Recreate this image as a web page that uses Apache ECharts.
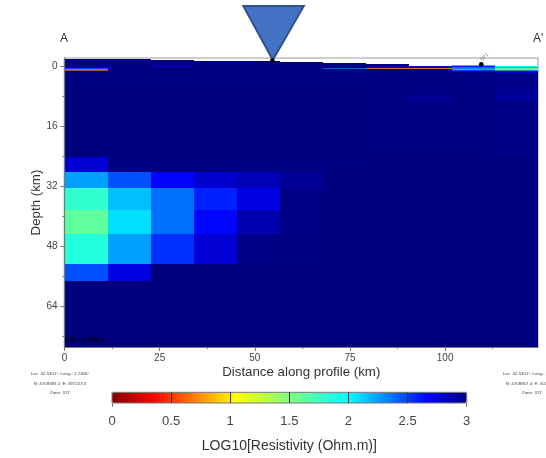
<!DOCTYPE html>
<html><head><meta charset="utf-8">
<style>html,body{margin:0;padding:0;background:#fff;overflow:hidden}#c{width:546px;height:458px}</style>
<script src="https://cdn.jsdelivr.net/npm/echarts@6/dist/echarts.min.js"></script>
</head><body><div id="c"></div>
<script>
// ---- data ----
const columnEdges = [0, 11.35, 22.65, 33.95, 45.25, 56.6, 68, 79.3, 90.6, 101.9, 113.2, 124.4];
const surfaceTops = [-1.9, -1.9, -1.7, -1.6, -1.35, -1.3, -0.85, -0.6, -0.2, -0.25, -0.1];
const rowEdges = [5.7, 7.6, 9.2, 24.2, 28.1, 32.6, 38.4, 44.8, 52.7, 57.3, 75];
const row0 = [2.99, 2.99, 2.99, 2.99, 2.99, 2.99, 2.99, 2.99, 2.99, 2.98, 2.97];
const row1 = [3, 3, 3, 3, 3, 3, 3, 2.99, 2.98, 2.99, 2.95];
const row2 = [3, 3, 3, 3, 3, 3, 3, 2.99, 2.95, 2.99, 2.93];
const row3 = [3, 3, 3, 3, 3, 3, 3, 2.99, 2.99, 2.99, 2.98];
const row4 = [2.78, 2.99, 2.99, 2.99, 2.99, 2.99, 2.99, 3, 3, 3, 3];
const row5 = [2.25, 2.46, 2.67, 2.8, 2.85, 2.94, 3, 3, 3, 3, 3];
const row6 = [1.81, 2.165, 2.376, 2.586, 2.74, 2.98, 3, 3, 3, 3, 3];
const row7 = [1.62, 2.08, 2.376, 2.66, 2.87, 2.98, 3, 3, 3, 3, 3];
const row8 = [1.87, 2.25, 2.544, 2.78, 2.98, 2.99, 3, 3, 3, 3, 3];
const row9 = [2.46, 2.75, 3, 3, 3, 3, 3, 3, 3, 3, 3];
const row10 = [3, 3, 3, 3, 3, 3, 3, 3, 3, 3, 3];
const deepRows = [row1, row2, row3, row4, row5, row6, row7, row8, row9, row10];
// thin near-surface layers: [column, top depth, bottom depth, log10 resistivity]
const thinLayers = [
  [0, 0.32, 0.72, 2.55], [0, 0.72, 1.05, 0.8],
  [2, -0.2, -0.0, 2.7],
  [6, 0.4, 0.56, 2.1],
  [7, 0.404, 0.6, 0.8],
  [8, -0.15, 0.1, 2.75], [8, 0.404, 0.6, 0.8],
  [9, -0.25, 0.14, 2.6], [9, 0.2, 0.33, 0.8], [9, 0.48, 1.0, 2.2], [9, 1.0, 1.3, 2.5],
  [10, -0.1, 0.13, 2.0], [10, 0.14, 0.33, 0.8], [10, 0.4, 1.12, 1.65], [10, 1.12, 1.66, 2.67]
];
const stationDist = [54.6, 109.5];
const stationDepth = [-1.6, -0.6];
const stationNames = ['', 'SP1'];
const triangleTip = [54.6, -1.75];
const depthTicks = [0, 16, 32, 48, 64];
const depthMinorTicks = [8, 24, 40, 56, 72];
const distanceTicks = [0, 25, 50, 75, 100];
const distanceMinorTicks = [12.5, 37.5, 62.5, 87.5, 112.5];
const colorbarTicks = [0, 0.5, 1, 1.5, 2, 2.5, 3];
const scaleStops = [[0, '#7f0000'], [0.35, '#ff0000'], [1.05, '#ffff00'], [1.5, '#7fff7f'], [2, '#00ffff'], [2.67, '#0000ff'], [3, '#00007f']];
const leftInfo = 'Lat.: 42.5301°; Long.: 1.7466°\nN: 4709395.1; E: 397223.3\nZone: 31T';
const rightInfo = 'Lat.: 42.5301°; Long.: 3.0966°\nN: 4708857.0; E: 507223.3\nZone: 31T';

// ---- build ----
function hex(c){return [1,3,5].map(i=>parseInt(c.substr(i,2),16));}
function colorAt(v){
  for(let i=1;i<scaleStops.length;i++){
    if(v<=scaleStops[i][0]){
      const a=scaleStops[i-1],b=scaleStops[i],t=(v-a[0])/(b[0]-a[0]);
      const A=hex(a[1]),B=hex(b[1]);
      return 'rgb('+A.map((x,k)=>Math.round(x+(B[k]-x)*t)).join(',')+')';
    }
  }
  return scaleStops[scaleStops.length-1][1];
}
const ramp=[];for(let i=0;i<=120;i++)ramp.push(colorAt(i*3/120));

const cells=[];
row0.forEach((v,c)=>cells.push([columnEdges[c],columnEdges[c+1],surfaceTops[c],rowEdges[0],v]));
deepRows.forEach((row,r)=>row.forEach((v,c)=>cells.push([columnEdges[c],columnEdges[c+1],rowEdges[r],rowEdges[r+1],v])));
const thin=thinLayers.map(l=>[columnEdges[l[0]],columnEdges[l[0]+1],l[1],l[2],l[3]]);

const tc='#444', ac='#777';
const xMax=124.4,yMin=-2.27,yMax=75;
function rectItem(snap){return function(params,api){
  const a=api.coord([api.value(0),api.value(2)]),b=api.coord([api.value(1),api.value(3)]);
  const r=snap?Math.round:(x=>x);
  const x0=Math.round(a[0]),x1=Math.round(b[0]),y0=r(a[1]),y1=r(b[1]);
  return {type:'rect',shape:{x:x0,y:y0,width:x1-x0,height:y1-y0},style:{fill:api.visual('color')}};
};}

const option={
  animation:false,
  backgroundColor:'#fff',
  textStyle:{fontFamily:'"Liberation Sans",Arial,sans-serif'},
  grid:[
    {left:64.5,top:58,width:473.5,height:289,show:true,borderColor:'#bdbdbd',borderWidth:1.5,backgroundColor:'#fff'},
    {left:112,top:392.3,width:354.7,height:10.7,show:true,borderColor:'#777',borderWidth:1,backgroundColor:'transparent',z:10}
  ],
  xAxis:[
    {type:'value',gridIndex:0,min:0,max:xMax,position:'bottom',name:'Distance along profile (km)',nameLocation:'middle',nameGap:19,nameMoveOverlap:false,
     nameTextStyle:{fontSize:13.3,color:'#333'},splitLine:{show:false},z:5,
     axisLine:{show:true,onZero:false,lineStyle:{color:ac,width:1.2}},
     axisTick:{show:true,length:4,customValues:distanceTicks,lineStyle:{color:ac}},
     axisLabel:{show:true,customValues:distanceTicks,fontSize:10,color:tc,margin:6,formatter:v=>String(v),showMinLabel:true,showMaxLabel:true}},
    {type:'value',gridIndex:0,min:0,max:xMax,position:'bottom',axisLine:{show:false,onZero:false},splitLine:{show:false},
     axisTick:{show:true,length:2,customValues:distanceMinorTicks,lineStyle:{color:ac}},axisLabel:{show:false}},
    {type:'value',gridIndex:1,min:0,max:3,interval:0.5,position:'bottom',z:11,
     name:'LOG10[Resistivity (Ohm.m)]',nameLocation:'middle',nameGap:36,nameMoveOverlap:false,nameTextStyle:{fontSize:14,color:'#333'},
     splitLine:{show:true,showMinLine:false,showMaxLine:false,lineStyle:{color:'#333',width:1}},axisLine:{show:false,onZero:false},axisTick:{show:false},
     axisLabel:{fontSize:13,color:tc,margin:12,formatter:v=>String(v)}},
    {type:'value',gridIndex:1,min:0,max:3,position:'bottom',axisLine:{show:false,onZero:false},splitLine:{show:false},
     axisTick:{show:true,length:4,customValues:[colorbarTicks[0],colorbarTicks[6]],lineStyle:{color:ac}},axisLabel:{show:false}}
  ],
  yAxis:[
    {type:'value',gridIndex:0,inverse:true,position:'left',min:yMin,max:yMax,name:'Depth (km)',nameLocation:'middle',nameGap:22,nameMoveOverlap:false,
     nameTextStyle:{fontSize:13.3,color:'#333'},splitLine:{show:false},z:5,
     axisLine:{show:true,onZero:false,lineStyle:{color:ac,width:1.2}},
     axisTick:{show:true,length:4,customValues:depthTicks,lineStyle:{color:ac}},
     axisLabel:{show:true,customValues:depthTicks,fontSize:10,color:tc,margin:7,formatter:v=>String(v)}},
    {type:'value',gridIndex:0,inverse:true,position:'left',min:yMin,max:yMax,axisLine:{show:false,onZero:false},splitLine:{show:false},
     axisTick:{show:true,length:2,customValues:depthMinorTicks,lineStyle:{color:ac}},axisLabel:{show:false}},
    {type:'value',gridIndex:1,min:0,max:1,show:false}
  ],
  visualMap:{
    type:'continuous',min:0,max:3,dimension:4,seriesIndex:[0,1],orient:'horizontal',
    left:112,top:392.3,itemHeight:354.7,itemWidth:10.7,padding:0,text:null,showLabel:false,calculable:false,hoverLink:false,
    inRange:{color:ramp}
  },
  series:[
    {type:'custom',name:'cells',xAxisIndex:0,yAxisIndex:0,coordinateSystem:'cartesian2d',data:cells,encode:{x:[0,1],y:[2,3]},renderItem:rectItem(true),silent:true,z:2},
    {type:'custom',name:'layers',xAxisIndex:0,yAxisIndex:0,coordinateSystem:'cartesian2d',data:thin,encode:{x:[0,1],y:[2,3]},renderItem:rectItem(false),silent:true,z:3},
    {type:'custom',name:'stations',xAxisIndex:0,yAxisIndex:0,coordinateSystem:'cartesian2d',
     data:stationDist.map((d,i)=>[d,stationDepth[i],stationNames[i]]),encode:{x:0,y:1},silent:true,z:6,
     renderItem(params,api){
       const p=api.coord([api.value(0),api.value(1)]);
       const name=stationNames[params.dataIndex];
       const kids=[{type:'circle',shape:{cx:p[0],cy:p[1],r:2.3},style:{fill:'#000'}}];
       if(name)kids.push({type:'text',x:p[0]+3,y:p[1]-7,rotation:Math.PI/4,style:{text:name,fontSize:5,fill:'#777',align:'center',verticalAlign:'middle'}});
       return {type:'group',children:kids};
     }},
    {type:'custom',name:'marker',xAxisIndex:0,yAxisIndex:0,coordinateSystem:'cartesian2d',data:[triangleTip],encode:{x:0,y:1},silent:true,z:5,
     renderItem(params,api){
       const p=api.coord([api.value(0),api.value(1)]);
       return {type:'polygon',shape:{points:[[p[0]-29,6],[p[0]+31.5,6],[p[0]+0.5,p[1]]]},style:{fill:'#4472c4',stroke:'#2f528f',lineWidth:2}};
     }}
  ],
  graphic:[
    {type:'text',left:60,top:33,style:{text:'A',fontSize:12,fill:'#333',fontFamily:'"Liberation Sans"'}},
    {type:'text',left:533,top:33,style:{text:"A'",fontSize:12,fill:'#333',fontFamily:'"Liberation Sans"'}},
    {type:'text',left:65,top:337,z:20,style:{text:'V.E.: 1.000 x',fontSize:7,fontWeight:'bold',fill:'#000',fontFamily:'"Liberation Sans"'}},
    {type:'text',x:60,y:369,style:{text:leftInfo,fontSize:4.4,lineHeight:9.6,fill:'#444',align:'center',fontFamily:'"Liberation Sans"'}},
    {type:'text',x:532,y:369,style:{text:rightInfo,fontSize:4.4,lineHeight:9.6,fill:'#444',align:'center',fontFamily:'"Liberation Sans"'}}
  ]
};
echarts.init(document.getElementById('c'),null,{renderer:'canvas'}).setOption(option);
</script></body></html>
